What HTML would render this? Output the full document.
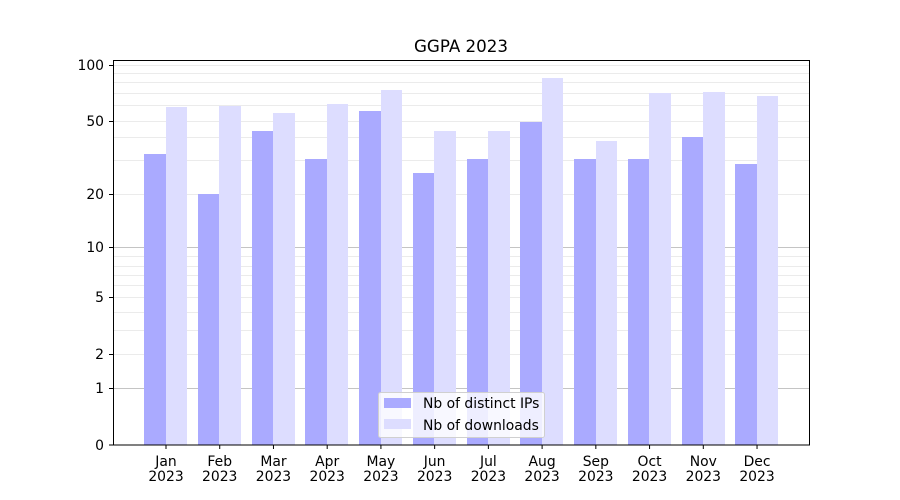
<!DOCTYPE html>
<html><head><meta charset="utf-8"><style>body{margin:0;background:#fff}svg{display:block}text{font-family:"DejaVu Sans","Liberation Sans",sans-serif;font-size:13.9px;fill:#000}</style></head>
<body>
<svg width="900" height="500" viewBox="0 0 900 500" xmlns="http://www.w3.org/2000/svg">
<rect width="900" height="500" fill="#fff"/>
<g stroke="#ebebeb" stroke-width="1">
<line x1="113" x2="810" y1="160.5" y2="160.5"/><line x1="113" x2="810" y1="137.5" y2="137.5"/>
<line x1="113" x2="810" y1="105.5" y2="105.5"/><line x1="113" x2="810" y1="93.5" y2="93.5"/>
<line x1="113" x2="810" y1="82.5" y2="82.5"/><line x1="113" x2="810" y1="73.5" y2="73.5"/>
<line x1="113" x2="810" y1="121.5" y2="121.5"/><line x1="113" x2="810" y1="194.5" y2="194.5"/>
<line x1="113" x2="810" y1="65.5" y2="65.5"/>
<line x1="113" x2="810" y1="330.5" y2="330.5"/><line x1="113" x2="810" y1="312.5" y2="312.5"/>
<line x1="113" x2="810" y1="285.5" y2="285.5"/><line x1="113" x2="810" y1="275.5" y2="275.5"/>
<line x1="113" x2="810" y1="266.5" y2="266.5"/><line x1="113" x2="810" y1="256.5" y2="256.5"/>
<line x1="113" x2="810" y1="297.5" y2="297.5"/><line x1="113" x2="810" y1="354.5" y2="354.5"/>
</g>
<g stroke="#c4c4c4"><line x1="113" x2="810" y1="247.5" y2="247.5"/><line x1="113" x2="810" y1="388.5" y2="388.5"/></g>
<g fill="#aaaaff">
<rect x="144" y="154" width="22" height="291"/><rect x="198" y="194" width="21" height="251"/>
<rect x="252" y="131" width="21" height="314"/><rect x="305" y="159" width="22" height="286"/>
<rect x="359" y="111" width="22" height="334"/><rect x="413" y="173" width="21" height="272"/>
<rect x="467" y="159" width="21" height="286"/><rect x="520" y="122" width="22" height="323"/>
<rect x="574" y="159" width="22" height="286"/><rect x="628" y="159" width="21" height="286"/>
<rect x="682" y="137" width="21" height="308"/><rect x="735" y="164" width="22" height="281"/>
</g>
<g fill="#ddddff">
<rect x="166" y="107" width="21" height="338"/><rect x="219" y="106" width="22" height="339"/>
<rect x="273" y="113" width="22" height="332"/><rect x="327" y="104" width="21" height="341"/>
<rect x="381" y="90" width="21" height="355"/><rect x="434" y="131" width="22" height="314"/>
<rect x="488" y="131" width="22" height="314"/><rect x="542" y="78" width="21" height="367"/>
<rect x="596" y="141" width="21" height="304"/><rect x="649" y="93" width="22" height="352"/>
<rect x="703" y="92" width="22" height="353"/><rect x="757" y="96" width="21" height="349"/>
</g>
<rect x="113.5" y="60.5" width="696" height="384.5" fill="none" stroke="#000"/>
<g stroke="#000">
<line x1="109" x2="113" y1="65.5" y2="65.5"/><line x1="109" x2="113" y1="121.5" y2="121.5"/>
<line x1="109" x2="113" y1="194.5" y2="194.5"/><line x1="109" x2="113" y1="247.5" y2="247.5"/>
<line x1="109" x2="113" y1="297.5" y2="297.5"/><line x1="109" x2="113" y1="354.5" y2="354.5"/>
<line x1="109" x2="113" y1="388.5" y2="388.5"/><line x1="109" x2="113" y1="445" y2="445"/>
</g>
<g text-anchor="end">
<text x="104" y="70">100</text><text x="104" y="126">50</text><text x="104" y="199">20</text>
<text x="104" y="252">10</text><text x="104" y="302">5</text><text x="104" y="359">2</text>
<text x="104" y="393">1</text><text x="104" y="450">0</text>
</g>
<g text-anchor="middle">
<text x="461" y="52" style="font-size:16.7px">GGPA 2023</text>
</g>
<g text-anchor="middle" id="xl"></g>
<g stroke="#000" id="xt"></g>
<rect x="378.5" y="392.5" width="166" height="45" rx="2" fill="#fff" fill-opacity="0.8" stroke="#d0d0d0"/>
<rect x="384" y="398" width="27" height="10" fill="#aaaaff"/>
<rect x="384" y="419" width="27" height="10" fill="#ddddff"/>
<text x="423" y="408">Nb of distinct IPs</text>
<text x="423" y="430">Nb of downloads</text>
<script>
var m=["Jan","Feb","Mar","Apr","May","Jun","Jul","Aug","Sep","Oct","Nov","Dec"],ns="http://www.w3.org/2000/svg";
var xl=document.getElementById("xl"),xt=document.getElementById("xt");
m.forEach(function(n,i){var x=166+i*53.73;
var l=document.createElementNS(ns,"line");l.setAttribute("x1",x);l.setAttribute("x2",x);l.setAttribute("y1",445);l.setAttribute("y2",449);xt.appendChild(l);
[n,"2023"].forEach(function(s,j){var t=document.createElementNS(ns,"text");t.setAttribute("x",x);t.setAttribute("y",466+j*15);t.textContent=s;xl.appendChild(t);});});
</script>
</svg>
</body></html>
